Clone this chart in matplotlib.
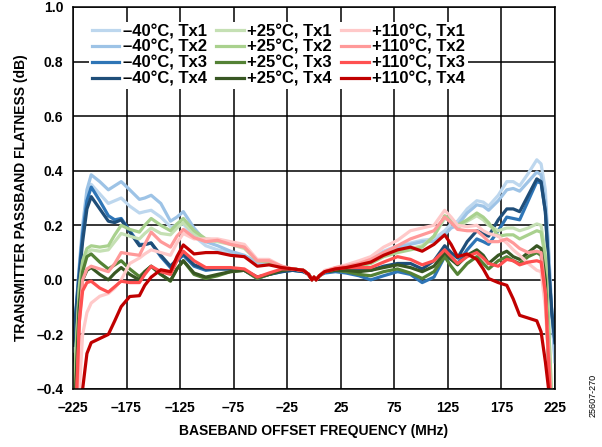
import matplotlib
matplotlib.use("Agg")
import matplotlib.pyplot as plt

plt.rcParams['font.family'] = ['Liberation Sans', 'DejaVu Sans']
plt.rcParams['font.weight'] = 'bold'

# baseband offset frequency (MHz)
freq = [-225, -222, -219, -216, -212, -208, -200, -192, -186, -180,
        -172, -163, -158, -152, -143, -134, -128, -122, -112, -101,
        -90, -78, -65, -53, -42, -30, -20, -10, -5, -2,
        0, 2, 5, 10, 20, 30, 42, 53, 65, 78,
        90, 101, 112, 122, 128, 134, 143, 152, 158, 163,
        172, 180, 186, 192, 200, 208, 212, 216, 219, 222,
        225]

# -40C
m40_tx1 = [-0.26, -0.11, 0.04, 0.18, 0.30, 0.35, 0.315, 0.28, 0.29, 0.30,
           0.27, 0.245, 0.25, 0.255, 0.23, 0.195, 0.20, 0.205, 0.16, 0.125,
           0.11, 0.10, 0.085, 0.06, 0.06, 0.045, 0.04, 0.035, 0.02, 0.0,
           0.01, 0.0, 0.015, 0.03, 0.04, 0.045, 0.055, 0.075, 0.105, 0.125,
           0.135, 0.145, 0.15, 0.18, 0.205, 0.215, 0.26, 0.29, 0.285, 0.27,
           0.31, 0.36, 0.36, 0.345, 0.39, 0.44, 0.425, 0.33, 0.12, -0.12,
           -0.3]
m40_tx2 = [-0.26, -0.10, 0.06, 0.20, 0.33, 0.385, 0.36, 0.33, 0.345, 0.36,
           0.33, 0.295, 0.30, 0.31, 0.28, 0.215, 0.23, 0.25, 0.19, 0.14,
           0.125, 0.105, 0.09, 0.065, 0.065, 0.045, 0.04, 0.035, 0.02, 0.0,
           0.01, 0.0, 0.015, 0.03, 0.04, 0.045, 0.05, 0.07, 0.10, 0.12,
           0.13, 0.14, 0.14, 0.165, 0.19, 0.20, 0.245, 0.275, 0.27, 0.255,
           0.29, 0.33, 0.335, 0.325, 0.36, 0.395, 0.385, 0.29, 0.10, -0.12,
           -0.3]
m40_tx3 = [-0.24, -0.10, 0.04, 0.17, 0.29, 0.34, 0.29, 0.235, 0.22, 0.225,
           0.18, 0.13, 0.13, 0.135, 0.085, 0.045, 0.07, 0.09, 0.05, 0.035,
           0.04, 0.04, 0.035, 0.005, 0.02, 0.03, 0.035, 0.03, 0.02, 0.0,
           0.01, 0.0, 0.015, 0.025, 0.03, 0.025, 0.015, 0.0, 0.015, 0.03,
           0.02, -0.01, 0.01, 0.085, 0.075, 0.06, 0.11, 0.15, 0.14, 0.13,
           0.18, 0.23, 0.225, 0.22, 0.29, 0.36, 0.355, 0.25, 0.05, -0.12,
           -0.23]
m40_tx4 = [-0.24, -0.11, 0.02, 0.14, 0.26, 0.305, 0.26, 0.215, 0.21, 0.22,
           0.175, 0.125, 0.13, 0.135, 0.09, 0.05, 0.075, 0.095, 0.055, 0.04,
           0.04, 0.04, 0.035, 0.01, 0.02, 0.03, 0.035, 0.03, 0.02, 0.0,
           0.01, 0.0, 0.015, 0.03, 0.035, 0.035, 0.035, 0.035, 0.05, 0.06,
           0.06, 0.04, 0.07, 0.125, 0.10, 0.08, 0.14, 0.18, 0.17, 0.16,
           0.22, 0.26, 0.26, 0.25, 0.31, 0.37, 0.36, 0.25, 0.05, -0.12,
           -0.23]

# +25C
p25_tx1 = [-0.5, -0.25, -0.03, 0.06, 0.10, 0.11, 0.105, 0.11, 0.14, 0.17,
           0.16, 0.15, 0.17, 0.19, 0.17, 0.165, 0.19, 0.21, 0.17, 0.145,
           0.14, 0.13, 0.115, 0.07, 0.065, 0.045, 0.04, 0.035, 0.02, 0.0,
           0.01, 0.0, 0.015, 0.03, 0.04, 0.045, 0.05, 0.065, 0.09, 0.11,
           0.115, 0.125, 0.16, 0.225, 0.215, 0.19, 0.215, 0.235, 0.22, 0.20,
           0.18, 0.19, 0.19, 0.18, 0.19, 0.205, 0.20, 0.10, -0.15, -0.45,
           -0.7]
p25_tx2 = [-0.5, -0.24, -0.02, 0.07, 0.115, 0.125, 0.12, 0.125, 0.165, 0.20,
           0.185, 0.175, 0.20, 0.225, 0.20, 0.18, 0.205, 0.225, 0.18, 0.15,
           0.145, 0.135, 0.12, 0.07, 0.065, 0.045, 0.04, 0.035, 0.02, 0.0,
           0.01, 0.0, 0.015, 0.03, 0.04, 0.045, 0.05, 0.06, 0.085, 0.10,
           0.11, 0.12, 0.16, 0.235, 0.22, 0.20, 0.22, 0.245, 0.23, 0.21,
           0.16, 0.165, 0.165, 0.15, 0.165, 0.18, 0.175, 0.08, -0.15, -0.45,
           -0.7]
p25_tx3 = [-0.6, -0.35, -0.08, 0.03, 0.085, 0.095, 0.065, 0.04, 0.055, 0.07,
           0.04, 0.012, 0.03, 0.05, 0.02, -0.005, 0.04, 0.07, 0.02, 0.005,
           0.015, 0.03, 0.035, 0.005, 0.02, 0.035, 0.04, 0.035, 0.02, 0.0,
           0.01, 0.0, 0.015, 0.03, 0.035, 0.03, 0.02, 0.015, 0.03, 0.04,
           0.025, 0.005, 0.03, 0.085, 0.05, 0.02, 0.06, 0.085, 0.06, 0.04,
           0.07, 0.085, 0.07, 0.06, 0.085, 0.10, 0.09, -0.05, -0.3, -0.6,
           -0.8]
p25_tx4 = [-0.6, -0.37, -0.10, 0.0, 0.035, 0.045, 0.02, 0.0, 0.025, 0.045,
           0.02, 0.0, 0.03, 0.05, 0.02, -0.003, 0.04, 0.07, 0.025, 0.01,
           0.02, 0.03, 0.035, 0.01, 0.02, 0.035, 0.04, 0.035, 0.02, 0.0,
           0.01, 0.0, 0.015, 0.03, 0.035, 0.035, 0.03, 0.035, 0.045, 0.055,
           0.045, 0.03, 0.05, 0.10, 0.075, 0.055, 0.09, 0.11, 0.09, 0.06,
           0.09, 0.105, 0.085, 0.075, 0.10, 0.125, 0.115, 0.0, -0.3, -0.6,
           -0.8]

# +110C
p110_tx1 = [-0.9, -0.7, -0.4, -0.2, -0.12, -0.085, -0.06, -0.05, -0.03, 0.0,
            0.06, 0.08, 0.095, 0.11, 0.10, 0.09, 0.135, 0.17, 0.15, 0.15,
            0.15, 0.14, 0.13, 0.075, 0.075, 0.05, 0.04, 0.035, 0.02, 0.0,
            0.01, 0.0, 0.015, 0.035, 0.045, 0.055, 0.07, 0.085, 0.12, 0.145,
            0.18, 0.19, 0.20, 0.255, 0.23, 0.20, 0.195, 0.20, 0.18, 0.17,
            0.16, 0.135, 0.11, 0.09, 0.06, 0.035, 0.03, -0.1, -0.3, -0.5,
            -0.7]
p110_tx2 = [-0.8, -0.5, -0.15, 0.0, 0.04, 0.05, 0.04, 0.03, 0.06, 0.10,
            0.095, 0.09, 0.13, 0.175, 0.14, 0.12, 0.16, 0.185, 0.155, 0.14,
            0.145, 0.13, 0.12, 0.07, 0.07, 0.05, 0.04, 0.035, 0.02, 0.0,
            0.01, 0.0, 0.015, 0.03, 0.045, 0.05, 0.06, 0.075, 0.10, 0.125,
            0.15, 0.165, 0.18, 0.23, 0.21, 0.185, 0.18, 0.18, 0.16, 0.14,
            0.14, 0.15, 0.135, 0.115, 0.10, 0.105, 0.10, -0.05, -0.25, -0.5,
            -0.7]
p110_tx3 = [-0.8, -0.45, -0.15, -0.04, -0.01, -0.005, -0.03, -0.045, -0.025, -0.005,
            -0.01, -0.01, 0.02, 0.05, 0.03, 0.02, 0.07, 0.105, 0.07, 0.045,
            0.045, 0.045, 0.04, 0.01, 0.025, 0.04, 0.04, 0.035, 0.02, 0.0,
            0.01, 0.0, 0.015, 0.03, 0.04, 0.045, 0.045, 0.045, 0.065, 0.085,
            0.075, 0.055, 0.07, 0.11, 0.085, 0.06, 0.085, 0.10, 0.08, 0.06,
            0.05, 0.075, 0.07, 0.055, 0.065, 0.07, 0.065, -0.05, -0.3, -0.55,
            -0.8]
p110_tx4 = [-1.0, -0.8, -0.6, -0.4, -0.27, -0.23, -0.215, -0.2, -0.15, -0.098,
            -0.061, -0.058, -0.02, 0.01, 0.037, 0.03, 0.085, 0.128, 0.095, 0.10,
            0.10, 0.09, 0.085, 0.05, 0.055, 0.045, 0.04, 0.035, 0.02, 0.0,
            0.01, 0.0, 0.015, 0.03, 0.04, 0.045, 0.055, 0.065, 0.09, 0.11,
            0.12, 0.105, 0.13, 0.165, 0.13, 0.085, 0.095, 0.075, 0.04, 0.005,
            -0.01, -0.02, -0.07, -0.13, -0.14, -0.15, -0.19, -0.3, -0.4, -0.7,
            -0.9]

series = [m40_tx1, m40_tx2, m40_tx3, m40_tx4,
          p25_tx1, p25_tx2, p25_tx3, p25_tx4,
          p110_tx1, p110_tx2, p110_tx3, p110_tx4]
labels = ['\u201340°C, Tx1', '\u201340°C, Tx2', '\u201340°C, Tx3', '\u201340°C, Tx4',
          '+25°C, Tx1', '+25°C, Tx2', '+25°C, Tx3', '+25°C, Tx4',
          '+110°C, Tx1', '+110°C, Tx2', '+110°C, Tx3', '+110°C, Tx4']
colors = ['#bdd7ee', '#9dc3e6', '#2e75b6', '#1f4e79',
          '#c5e0b4', '#a9d18e', '#548235', '#385723',
          '#ffc9c9', '#ff9999', '#ff5050', '#c00000']

xticks = [-225, -175, -125, -75, -25, 25, 75, 125, 175, 225]
yticks = [-0.4, -0.2, 0, 0.2, 0.4, 0.6, 0.8, 1.0]

fig = plt.figure(figsize=(6.02, 4.47), dpi=100)
ax = fig.add_axes([73 / 602, 1 - 389 / 447, 482 / 602, 382 / 447])

for y, lab, c in zip(series, labels, colors):
    ax.plot(freq, y, color=c, lw=2.3, label=lab, solid_joinstyle='round')

ax.set_xlim(-225, 225)
ax.set_ylim(-0.4, 1.0)
ax.set_xticks(xticks)
ax.set_xticklabels([str(t).replace('-', '\u2013') for t in xticks])
ax.set_yticks(yticks)
ax.set_yticklabels([('%.1f' % t).replace('-', '\u2013') for t in yticks])
ax.tick_params(length=0, labelsize=10, pad=7)
ax.tick_params(axis='x', pad=9)
ax.set_axisbelow(True)
ax.grid(True, color='black', lw=1.1)
for s in ax.spines.values():
    s.set_linewidth(1.1)

ax.set_xlabel('BASEBAND OFFSET FREQUENCY (MHz)', fontsize=10, fontweight='bold', labelpad=6)
ax.set_ylabel('TRANSMITTER PASSBAND FLATNESS (dB)', fontsize=10, fontweight='bold', labelpad=6)

leg = ax.legend(ncol=3, loc='upper left', bbox_to_anchor=(0.034, 0.962),
                fontsize=12, frameon=True, facecolor='white', edgecolor='none',
                framealpha=1, fancybox=False, borderpad=0.15, labelspacing=0.05,
                handlelength=1.65, handletextpad=0.22, columnspacing=0.55,
                borderaxespad=0)
for t in leg.get_texts():
    t.set_fontweight('bold')

fig.text(0.985, 0.115, '25607-270', rotation=90, fontsize=6.5, ha='center', va='center',
         fontweight='normal')

fig.savefig('out.png', dpi=100)
